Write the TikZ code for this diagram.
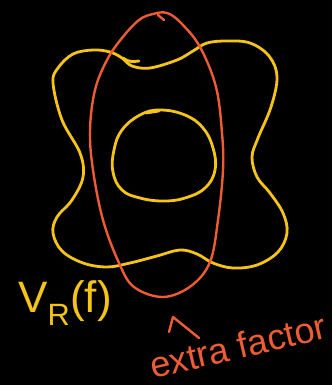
\documentclass[tikz,border=0pt]{standalone}
\usepackage{amsmath}
\usepackage{fontspec}
\setsansfont{Liberation Sans}
\definecolor{penyellow}{RGB}{246,196,22}
\definecolor{penorange}{RGB}{238,92,52}

\begin{document}
\begin{tikzpicture}[
				x=1pt, y=-1pt,
				line cap=round,
				line join=round,
				yellowpen/.style={draw=penyellow, line width=2.8pt},
				orangepen/.style={draw=penorange, line width=2.4pt},
				every node/.style={font=\sffamily, inner sep=0pt}
				]
				% Background
				\fill[black] (0,0) rectangle (332,385);
				\useasboundingbox (0,0) rectangle (332,385);
				
				% Outer wavy set
				\draw[yellowpen] plot[smooth cycle, tension=0.6] coordinates {
					(122,58) (132,66) (150,68) (177,60) (193,51) (207,43) (227,41)
					(250,43) (269,56) (277,77) (271,107) (258,138) (252,157)
					(257,177) (270,193) (283,213) (287,233) (278,252) (257,265)
					(233,268) (213,263) (197,254) (180,250) (157,256) (130,263)
					(107,267) (83,263) (62,251) (53,233) (57,217) (72,200)
					(83,177) (80,153) (62,120) (53,83) (58,68) (73,54) (93,50) (110,52)};
				\draw[yellowpen] (123,58) .. controls (128,62) and (133,62) .. (139,61);
				
				% Inner set
				\draw[yellowpen] plot[smooth cycle, tension=0.7] coordinates {
					(160,110) (185,115) (203,128) (213,148) (215,170) (205,188)
					(185,198) (163,201) (140,198) (122,190) (113,172) (114,150)
					(122,130) (140,115)};
				\draw[yellowpen] (146,113) -- (159,111);
				
				% Elongated set
				\draw[orangepen] plot[smooth cycle, tension=0.6] coordinates {
					(153,14) (167,13) (181,23) (200,47) (216,87) (222,133) (223,170)
					(218,220) (210,262) (191,286) (163,297) (134,287) (119,263)
					(103,220) (93,170) (90,130) (95,90) (107,60) (122,38) (139,20)};
				\draw[orangepen] (158,15) -- (164,20);
				
				% Labels
				\node[text=penyellow, font=\sffamily\fontsize{44}{44}\selectfont] (vrf) at (65,303) {V$_{\mathsf{R}}$(f)};
				\node[text=penorange, font=\sffamily\fontsize{36}{36}\selectfont, rotate=13] (extra) at (238,346) {extra factor};
				
				% Pointer
				\draw[orangepen] (169,332) -- (173,317) -- (199,338);
			\end{tikzpicture}
\end{document}
